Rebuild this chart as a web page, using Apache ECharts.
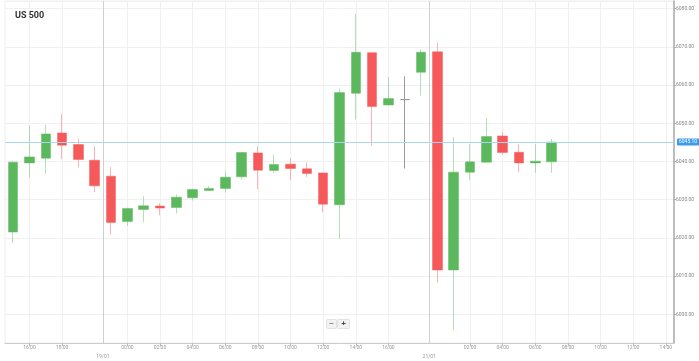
<!DOCTYPE html>
<html><head><meta charset="utf-8">
<script src="https://cdn.jsdelivr.net/npm/echarts@6/dist/echarts.min.js"></script>
<style>html,body{margin:0;padding:0;background:#fff}#c{width:699px;height:361px}</style>
</head><body><div id="c"></div>
<script>
const title = 'US 500';
const categories = ['15:00','16:00','17:00','18:00','19:00','20:00','23:00','00:00','01:00','02:00','03:00','04:00','05:00','06:00','07:00','08:00','09:00','10:00','11:00','12:00','13:00','14:00','15:00','16:00','17:00','18:00','00:00','01:00','02:00','03:00','04:00','05:00','06:00','07:00','08:00','09:00','10:00','11:00','12:00','13:00','14:00'];
const opens  = [6021.53,6039.63,6040.86,6047.47,6044.44,6040.34,6036.16,6024.32,6027.46,6028.32,6027.98,6030.49,6032.42,6032.95,6035.98,6042.25,6037.65,6039.30,6038.07,6037.02,6028.66,6057.85,6068.48,6054.79,6056.20,6063.33,6068.69,6011.60,6037.21,6039.82,6046.69,6042.43,6039.63,6039.90];
const closes = [6039.82,6041.20,6047.21,6044.26,6040.52,6033.63,6024.06,6027.72,6028.40,6027.80,6030.67,6032.68,6032.95,6035.90,6042.35,6037.73,6039.22,6038.17,6036.87,6028.84,6058.03,6068.56,6054.37,6056.46,6056.20,6068.56,6011.60,6037.21,6039.90,6046.53,6042.35,6039.63,6040.08,6045.10];
const lows   = [6018.65,6035.90,6036.87,6040.60,6038.43,6031.98,6020.93,6023.17,6024.14,6025.97,6026.41,6029.81,6032.37,6031.90,6035.30,6032.76,6037.02,6035.11,6035.98,6026.68,6019.70,6050.97,6044.08,6054.71,6038.17,6057.32,6008.28,5995.92,6035.11,6039.74,6041.83,6037.21,6037.02,6037.02];
const highs  = [6040.08,6049.48,6049.67,6052.36,6046.01,6044.00,6038.51,6027.80,6030.93,6029.03,6031.38,6032.76,6033.55,6037.39,6042.43,6044.00,6041.72,6040.86,6039.63,6037.07,6059.07,6078.67,6068.56,6062.10,6062.29,6069.34,6071.09,6046.35,6044.52,6051.39,6047.66,6044.52,6044.52,6045.91];
const labelIdx = [1,3,7,9,11,13,15,17,19,21,23,28,30,32,34,36,38,40];
const dateSeps = [5.5, 25.5];
const dateLabels = ['19/01','21/01'];
const lastPrice = 6045.10;
const yMin = 5992.5, yMax = 6082;

const candleData = opens.map((o, i) => [o, closes[i], lows[i], highs[i]]);
const showAt = (idx) => labelIdx.indexOf(idx) >= 0;

const chart = echarts.init(document.getElementById('c'), null, {renderer: 'canvas'});
chart.setOption({
  animation: false,
  backgroundColor: '#fff',
  title: {text: title, left: 10, top: 6, textStyle: {fontSize: 9, fontWeight: 'bold', color: '#333', fontFamily: 'Roboto'}},
  grid: {left: 5, right: 25, top: 1, bottom: 18, show: true, borderColor: '#eeeeee', borderWidth: 1},
  xAxis: [{
    type: 'category', data: categories, boundaryGap: true,
    axisLine: {onZero: false, lineStyle: {color: '#cccccc', width: 1}},
    axisTick: {show: true, alignWithLabel: true, interval: (i) => showAt(i), length: 3, lineStyle: {color: '#bbbbbb'}},
    axisLabel: {interval: (i) => showAt(i), fontSize: 5, color: '#999999', margin: 2, fontFamily: 'Roboto'},
    splitLine: {show: true, alignWithLabel: true, interval: (i) => showAt(i), lineStyle: {color: '#f0f0f0', width: 1}}
  }, {
    type: 'value', min: -0.5, max: categories.length - 0.5, show: false
  }],
  yAxis: {
    type: 'value', position: 'right', min: yMin, max: yMax, splitNumber: 9, scale: true,
    axisLine: {show: true, onZero: false, lineStyle: {color: '#aaaaaa', width: 1.5}},
    axisTick: {show: true, length: 2, lineStyle: {color: '#aaaaaa'}},
    axisLabel: {fontSize: 5, color: '#888888', margin: 2, showMinLabel: false, showMaxLabel: false,
      formatter: (v) => v.toFixed(2), fontFamily: 'Roboto'},
    splitLine: {show: true, lineStyle: {color: '#f0f0f0', width: 1}}
  },
  series: [{
    type: 'candlestick', data: candleData, barWidth: 10,
    itemStyle: {
      color: '#5cb85c', color0: '#f65959',
      borderColor: 'rgba(92,184,92,0.45)', borderColor0: 'rgba(246,89,89,0.45)',
      borderColorDoji: '#999999', borderWidth: 1
    },
    markLine: {
      symbol: 'none', silent: true,
      lineStyle: {color: '#a9d5f7', type: 'solid', width: 1},
      label: {position: 'end', distance: 3, formatter: (p) => p.value.toFixed(2), fontSize: 5, color: '#ffffff',
        backgroundColor: '#3d9be9', padding: [1, 2], borderRadius: 1, fontFamily: 'Roboto'},
      data: [{yAxis: lastPrice}]
    }
  }, {
    type: 'scatter', xAxisIndex: 1, yAxisIndex: 0, symbolSize: 0, data: [[-10, 6000]],
    markLine: {
      symbol: 'none', silent: true,
      lineStyle: {color: '#d0d0d0', type: 'solid', width: 1},
      label: {position: 'start', distance: 11, fontSize: 5, color: '#999999', fontFamily: 'Roboto'},
      data: dateSeps.map((x, i) => ({xAxis: x, label: {formatter: dateLabels[i]}}))
    }
  }],
  graphic: [{
    type: 'group', left: 326, top: 319,
    children: [
      {type: 'rect', shape: {x: 0, y: 0, width: 10, height: 9, r: 1}, style: {fill: '#f2f2f2', stroke: '#e2e2e2'}},
      {type: 'text', style: {x: 5, y: 4.5, text: '−', fontSize: 8, fill: '#444', align: 'center', verticalAlign: 'middle'}},
      {type: 'rect', shape: {x: 11, y: 0, width: 12, height: 9, r: 1}, style: {fill: '#f2f2f2', stroke: '#e2e2e2'}},
      {type: 'text', style: {x: 17, y: 4.5, text: '+', fontSize: 8, fontWeight: 'bold', fill: '#444', align: 'center', verticalAlign: 'middle'}}
    ]
  }]
});
</script></body></html>
